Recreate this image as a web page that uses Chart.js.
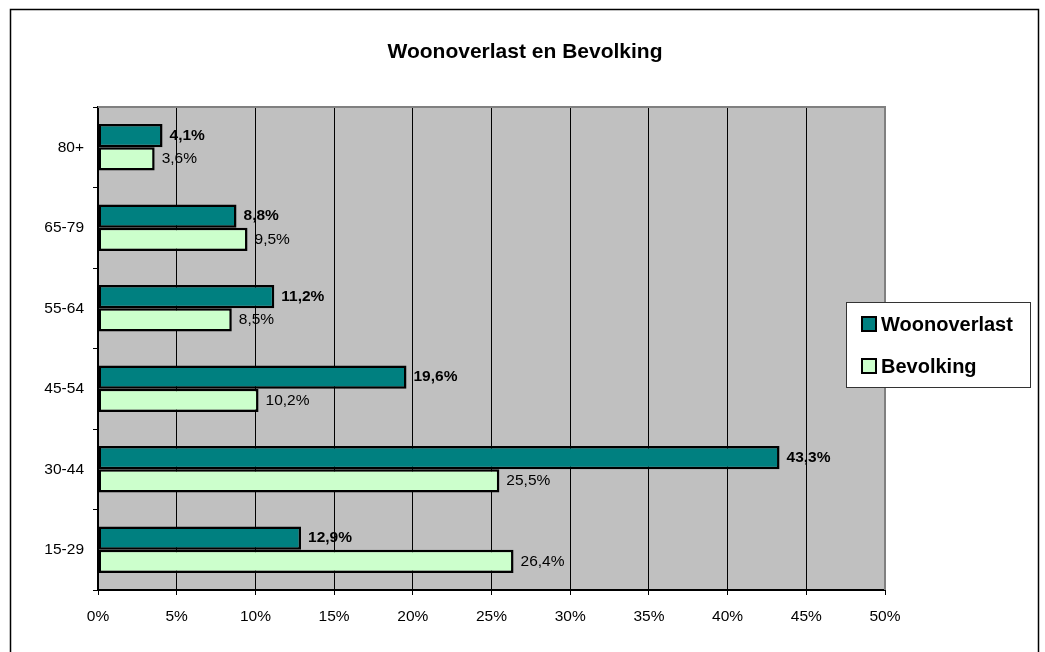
<!DOCTYPE html>
<html lang="nl">
<head>
<meta charset="UTF-8" />
<title>Woonoverlast en Bevolking</title>
<script src="https://cdn.jsdelivr.net/npm/chart.js"></script>
<style>
  body { margin: 0; background: #fff; }
  #wrap { position: relative; width: 1045px; height: 652px; }
</style>
</head>
<body>
<div id="wrap"><canvas id="chart"></canvas></div>
<script>
  const ageGroups = ['80+', '65-79', '55-64', '45-54', '30-44', '15-29'];
  const woonoverlast = [4.1, 8.8, 11.2, 19.6, 43.3, 12.9];
  const bevolking = [3.6, 9.5, 8.5, 10.2, 25.5, 26.4];
  const xTicks = [0, 5, 10, 15, 20, 25, 30, 35, 40, 45, 50];
  const chartTitle = 'Woonoverlast en Bevolking';

  const FONT = '"Liberation Sans", Arial, sans-serif';
  const fmt = v => v.toFixed(1).replace('.', ',') + '%';

  // background, frame, title, labels and legend
  const decor = {
    id: 'decor',
    beforeDraw(chart) {
      const { ctx, chartArea: a } = chart;
      ctx.save();
      ctx.fillStyle = '#fff';
      ctx.fillRect(0, 0, chart.width, chart.height);
      ctx.fillStyle = '#c0c0c0';
      ctx.fillRect(a.left, a.top, a.right - a.left, a.bottom - a.top);
      ctx.restore();
    },
    afterDatasetsDraw(chart) {
      const { ctx } = chart;
      ctx.save();
      ctx.textBaseline = 'middle';
      ctx.fillStyle = '#000';
      chart.data.datasets.forEach((ds, di) => {
        ctx.font = (di === 0 ? 'bold ' : '') + '15.5px ' + FONT;
        chart.getDatasetMeta(di).data.forEach((bar, i) => {
          ctx.fillText(fmt(ds.data[i]), bar.x + 7, bar.y);
        });
      });
      ctx.restore();
    },
    afterDraw(chart) {
      const { ctx, chartArea: a } = chart;
      ctx.save();
      // plot border top / right
      ctx.strokeStyle = '#808080';
      ctx.lineWidth = 2;
      ctx.beginPath();
      ctx.moveTo(a.left, a.top);
      ctx.lineTo(a.right, a.top);
      ctx.lineTo(a.right, a.bottom);
      ctx.stroke();
      // outer frame
      ctx.strokeStyle = '#000';
      ctx.lineWidth = 1.5;
      ctx.strokeRect(10.5, 9.5, 1028, 700);
      // title
      ctx.fillStyle = '#000';
      ctx.font = 'bold 21px ' + FONT;
      ctx.textAlign = 'center';
      ctx.textBaseline = 'middle';
      ctx.fillText(chartTitle, 525, 52);
      // legend
      const lx = 846, ly = 302, lw = 184, lh = 85;
      ctx.fillStyle = '#fff';
      ctx.fillRect(lx, ly, lw, lh);
      ctx.strokeStyle = '#333';
      ctx.lineWidth = 1;
      ctx.strokeRect(lx + 0.5, ly + 0.5, lw, lh);
      ctx.textAlign = 'left';
      ctx.font = 'bold 20px ' + FONT;
      chart.data.datasets.forEach((ds, di) => {
        const cy = ly + 22 + di * 42;
        ctx.fillStyle = ds.backgroundColor;
        ctx.fillRect(862, cy - 7, 14, 14);
        ctx.strokeStyle = '#000';
        ctx.lineWidth = 2;
        ctx.strokeRect(862, cy - 7, 14, 14);
        ctx.fillStyle = '#000';
        ctx.fillText(ds.label, 881, cy + 1);
      });
      ctx.restore();
    }
  };

  new Chart(document.getElementById('chart'), {
    type: 'bar',
    data: {
      labels: ageGroups,
      datasets: [
        { label: 'Woonoverlast', data: woonoverlast, backgroundColor: '#008080', borderColor: '#000', borderWidth: 2.5, borderSkipped: false },
        { label: 'Bevolking', data: bevolking, backgroundColor: '#ccffcc', borderColor: '#000', borderWidth: 2.5, borderSkipped: false }
      ]
    },
    options: {
      indexAxis: 'y',
      responsive: true,
      maintainAspectRatio: false,
      animation: false,
      datasets: { bar: { categoryPercentage: 0.575, barPercentage: 1 } },
      layout: { padding: { left: 0, top: 107, right: 160, bottom: 0 } },
      plugins: { legend: { display: false }, title: { display: false }, tooltip: { enabled: false } },
      scales: {
        x: {
          min: 0, max: 50,
          afterFit: s => { s.height = 62; },
          afterBuildTicks: s => { s.ticks = xTicks.map(v => ({ value: v })); },
          ticks: { callback: v => v + '%', color: '#000', font: { family: FONT, size: 15.5 }, padding: 12, maxRotation: 0 },
          grid: { color: '#000', lineWidth: 1, tickLength: 5, drawOnChartArea: true },
          border: { color: '#000', width: 2 }
        },
        y: {
          afterFit: s => { s.width = 98; },
          ticks: { color: '#000', font: { family: FONT, size: 15.5 }, padding: 9 },
          grid: { offset: true, drawOnChartArea: false, color: '#000', tickLength: 5 },
          border: { color: '#000', width: 2 }
        }
      }
    },
    plugins: [decor]
  });
</script>
</body>
</html>
